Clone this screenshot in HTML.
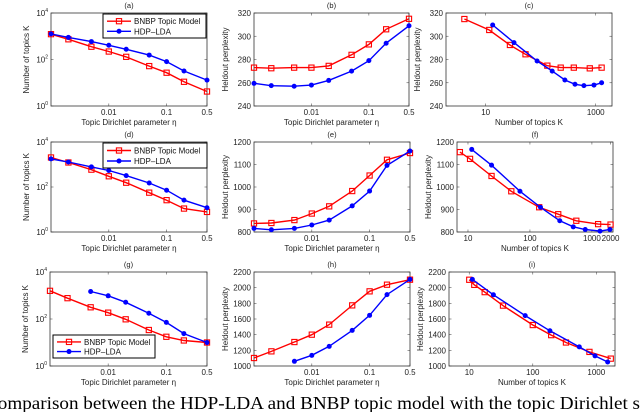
<!DOCTYPE html>
<html><head><meta charset="utf-8"><style>
html,body{margin:0;padding:0;background:#fff;width:640px;height:412px;overflow:hidden}
svg{display:block;font-family:"Liberation Sans",sans-serif}
</style></head><body>
<svg id="fig" width="640" height="412" viewBox="0 0 640 412" xmlns="http://www.w3.org/2000/svg">
<text x="-15" y="409" font-family="Liberation Serif, serif" font-size="17.5" textLength="655" lengthAdjust="spacingAndGlyphs">Comparison between the HDP-LDA and BNBP topic model with the topic Dirichlet s</text>
</svg>
<script>
// ---- data ----
const etaX = [0.001,0.002,0.005,0.01,0.02,0.05,0.1,0.2,0.5];
const etaX3b = [0.005,0.01,0.02,0.05,0.1,0.2,0.5];
const aRed = [1230,740,355,220,130,52,27,11,4.2];
const aBlue = [1260,890,590,410,275,155,81,32,13];
const bRed = [273,272.5,273,273,274.5,284,293,306,315];
const bBlue = [259.5,257.5,257,258,262,270,279,294,309];
const cRedK = [4.1,11.6,27.6,53,132,231,400,780,1280];
const cRed = [314.8,305.4,292.5,284.5,274.7,273,273,272.4,273];
const cBlueK = [13.4,32.7,86,162,275,420,610,930,1280];
const cBlue = [309.7,294.5,278.7,270,262.4,258.7,257.5,258,260];
const dRed = [2050,1230,590,300,155,56,26,11,7.8];
const dBlue = [1780,1290,780,540,320,150,72,26,12];
const eRed = [838,840,853,882,914,982,1051,1121,1151];
const eBlue = [816,810,816,831,853,916,982,1096,1160];
const fRedK = [7.4,10.8,24,50,141,286,560,1260,2000];
const fRed = [1155,1125,1049,981,910,879,850,835,833];
const fBlueK = [11.5,24,69,148,303,500,780,1350,1950];
const fBlue = [1167,1097,981,910,850,823,811,804,811];
const gRed = [1580,770,315,186,97,34,17.5,12.2,10];
const gBlue = [1480,970,515,175,72,24,10];
const hRed = [1102,1187,1306,1400,1528,1774,1953,2038,2102];
const hBlue = [1060,1136,1251,1455,1647,1911,2106];
const iRedK = [10,12,17.5,34,100,195,333,780,1690];
const iRed = [2101,2036,1943,1771,1523,1394,1300,1180,1094];
const iBlueK = [11.2,24,76,186,540,955,1510];
const iBlue = [2106,1909,1643,1450,1244,1129,1051];
const etaTicks = [0.01,0.1,0.5];
const etaTickLabels = ['0.01','0.1','0.5'];

const NS='http://www.w3.org/2000/svg';
const svg=document.getElementById('fig');
function mk(tag,attrs,parent){const e=document.createElementNS(NS,tag);for(const k in attrs)e.setAttribute(k,attrs[k]);(parent||svg).appendChild(e);return e;}
function logScale(d0,d1,r0,r1){const a=Math.log10(d0),b=Math.log10(d1);return v=>r0+(Math.log10(v)-a)/(b-a)*(r1-r0);}
function linScale(d0,d1,r0,r1){return v=>r0+(v-d0)/(d1-d0)*(r1-r0);}

function panel(p){
  const g=mk('g',{});
  
  
  const X=p.xlog?logScale(p.xd[0],p.xd[1],p.x0,p.x1):linScale(p.xd[0],p.xd[1],p.x0,p.x1);
  const Y=p.ylog?logScale(p.yd[0],p.yd[1],p.y1,p.y0):linScale(p.yd[0],p.yd[1],p.y1,p.y0);
  p.xt.forEach((t,i)=>{const x=X(t);
    mk('line',{x1:x,x2:x,y1:p.y1,y2:p.y1-2.5,stroke:'#555','stroke-width':0.6},g);
    mk('line',{x1:x,x2:x,y1:p.y0,y2:p.y0+2.5,stroke:'#555','stroke-width':0.6},g);
    const tl=mk('text',{x:x,y:p.y1+9,'font-size':8,'text-anchor':'middle',fill:'#222'},g);
    
    
    tl.textContent=p.xtl[i];});
  p.yt.forEach((t,i)=>{const y=Y(t);
    mk('line',{x1:p.x0,x2:p.x0+2.5,y1:y,y2:y,stroke:'#555','stroke-width':0.6},g);
    mk('line',{x1:p.x1,x2:p.x1-2.5,y1:y,y2:y,stroke:'#555','stroke-width':0.6},g);
    const tl=mk('text',{x:p.x0-3,y:y+3,'font-size':8,'text-anchor':'end',fill:'#222'},g);
    
    
    if(p.ylog){tl.textContent='10';const s=mk('tspan',{dy:-4,'font-size':5},tl);s.textContent=String(Math.round(Math.log10(t)));}
    else tl.textContent=String(t);});
  const bx=mk('rect',{x:p.x0,y:p.y0,width:p.x1-p.x0,height:p.y1-p.y0,fill:'none',stroke:'#333','stroke-width':0.8},g);
  
  
  const tt=mk('text',{x:(p.x0+p.x1)/2,y:p.y0-5,'font-size':7.5,'text-anchor':'middle',fill:'#222'},g);
  
  
  tt.textContent=p.title;
  const xl=mk('text',{x:(p.x0+p.x1)/2,y:p.y1+19,'font-size':8,'text-anchor':'middle',fill:'#222'},g);
  
  
  xl.textContent=p.xlab;
  const yx=p.x0-(p.ylog?22:26), yy=(p.y0+p.y1)/2;
  const yl=mk('text',{x:yx,y:yy,'font-size':8,'text-anchor':'middle',fill:'#222',transform:`rotate(-90 ${yx} ${yy})`},g);
  
  
  yl.textContent=p.ylab;
  p.series.forEach(s=>{
    const pts=s.x.map((xv,i)=>X(xv).toFixed(1)+','+Y(s.y[i]).toFixed(1)).join(' ');
    const pl=mk('polyline',{points:pts,fill:'none',stroke:s.c,'stroke-width':1.4},g);
    
    
    s.x.forEach((xv,i)=>{const cx=X(xv),cy=Y(s.y[i]);
      let m;
      if(s.mk==='sq') m=mk('rect',{x:cx-2.6,y:cy-2.6,width:5.2,height:5.2,fill:'none',stroke:s.c,'stroke-width':1.1},g);
      else m=mk('circle',{cx:cx,cy:cy,r:2.5,fill:s.c},g);
      
      });
  });
  if(p.legend){const L=p.legend;
    const lg=mk('g',{},g);
    
    
    mk('rect',{x:L.x,y:L.y,width:L.w,height:L.h,fill:'#fff',stroke:'#000','stroke-width':1},lg);
    [['#f00','sq','BNBP Topic Model'],['#00f','ci','HDP\u2013LDA']].forEach((e,i)=>{
      const ly=L.y+L.h*(i?0.72:0.3);
      const ent=mk('g',{},lg);
      
      
      mk('line',{x1:L.x+4,x2:L.x+28,y1:ly,y2:ly,stroke:e[0],'stroke-width':1.4},ent);
      if(e[1]==='sq') mk('rect',{x:L.x+13.4,y:ly-2.6,width:5.2,height:5.2,fill:'none',stroke:e[0],'stroke-width':1.1},ent);
      else mk('circle',{cx:L.x+16,cy:ly,r:2.5,fill:e[0]},ent);
      const t=mk('text',{x:L.x+31,y:ly+3,'font-size':8,fill:'#111'},ent);t.textContent=e[2];});
  }
}
const etaDom=[0.001,0.5];
const red='#f00', blue='#00f';
const xe='Topic Dirichlet parameter \u03b7', xk='Number of topics K', yk='Number of topics K', yp='Heldout perplexity';
panel({name:'panel-a',title:'(a)',x0:51,x1:207,y0:13,y1:106,xlog:1,xd:etaDom,ylog:1,yd:[1,1e4],xt:etaTicks,xtl:etaTickLabels,yt:[1,100,1e4],xlab:xe,ylab:yk,
 series:[{name:'bnbp',c:red,mk:'sq',x:etaX,y:aRed},{name:'hdp-lda',c:blue,mk:'ci',x:etaX,y:aBlue}],legend:{x:103,y:14,w:103,h:24}});
panel({name:'panel-b',title:'(b)',x0:254,x1:409,y0:13,y1:106,xlog:1,xd:etaDom,yd:[240,320],xt:etaTicks,xtl:etaTickLabels,yt:[240,260,280,300,320],xlab:xe,ylab:yp,
 series:[{name:'bnbp',c:red,mk:'sq',x:etaX,y:bRed},{name:'hdp-lda',c:blue,mk:'ci',x:etaX,y:bBlue}]});
panel({name:'panel-c',title:'(c)',x0:446,x1:612,y0:13,y1:106,xlog:1,xd:[1.9,1977],yd:[240,320],xt:[10,1000],xtl:['10','1000'],yt:[240,260,280,300,320],xlab:xk,ylab:yp,
 series:[{name:'bnbp',c:red,mk:'sq',x:cRedK,y:cRed},{name:'hdp-lda',c:blue,mk:'ci',x:cBlueK,y:cBlue}]});
panel({name:'panel-d',title:'(d)',x0:51,x1:207,y0:142,y1:232,xlog:1,xd:etaDom,ylog:1,yd:[1,1e4],xt:etaTicks,xtl:etaTickLabels,yt:[1,100,1e4],xlab:xe,ylab:yk,
 series:[{name:'bnbp',c:red,mk:'sq',x:etaX,y:dRed},{name:'hdp-lda',c:blue,mk:'ci',x:etaX,y:dBlue}],legend:{x:103,y:143,w:104,h:25}});
panel({name:'panel-e',title:'(e)',x0:254,x1:410,y0:142,y1:232,xlog:1,xd:etaDom,yd:[800,1200],xt:etaTicks,xtl:etaTickLabels,yt:[800,900,1000,1100,1200],xlab:xe,ylab:yp,
 series:[{name:'bnbp',c:red,mk:'sq',x:etaX,y:eRed},{name:'hdp-lda',c:blue,mk:'ci',x:etaX,y:eBlue}]});
panel({name:'panel-f',title:'(f)',x0:457,x1:613,y0:142,y1:232,xlog:1,xd:[6.65,2190],yd:[800,1200],xt:[10,100,1000,2000],xtl:['10','100','1000','2000'],yt:[800,900,1000,1100,1200],xlab:xk,ylab:yp,
 series:[{name:'bnbp',c:red,mk:'sq',x:fRedK,y:fRed},{name:'hdp-lda',c:blue,mk:'ci',x:fBlueK,y:fBlue}]});
panel({name:'panel-g',title:'(g)',x0:50,x1:207,y0:272,y1:366,xlog:1,xd:etaDom,ylog:1,yd:[1,1e4],xt:etaTicks,xtl:etaTickLabels,yt:[1,100,1e4],xlab:xe,ylab:yk,
 series:[{name:'bnbp',c:red,mk:'sq',x:etaX,y:gRed},{name:'hdp-lda',c:blue,mk:'ci',x:etaX3b,y:gBlue}],legend:{x:53,y:335,w:102,h:23}});
panel({name:'panel-h',title:'(h)',x0:254,x1:410,y0:272,y1:366,xlog:1,xd:etaDom,yd:[1000,2200],xt:etaTicks,xtl:etaTickLabels,yt:[1000,1200,1400,1600,1800,2000,2200],xlab:xe,ylab:yp,
 series:[{name:'bnbp',c:red,mk:'sq',x:etaX,y:hRed},{name:'hdp-lda',c:blue,mk:'ci',x:etaX3b,y:hBlue}]});
panel({name:'panel-i',title:'(i)',x0:449,x1:615,y0:272,y1:366,xlog:1,xd:[4.8,1970],yd:[1000,2200],xt:[10,100,1000],xtl:['10','100','1000'],yt:[1000,1200,1400,1600,1800,2000,2200],xlab:xk,ylab:yp,
 series:[{name:'bnbp',c:red,mk:'sq',x:iRedK,y:iRed},{name:'hdp-lda',c:blue,mk:'ci',x:iBlueK,y:iBlue}]});
</script>
</body></html>
